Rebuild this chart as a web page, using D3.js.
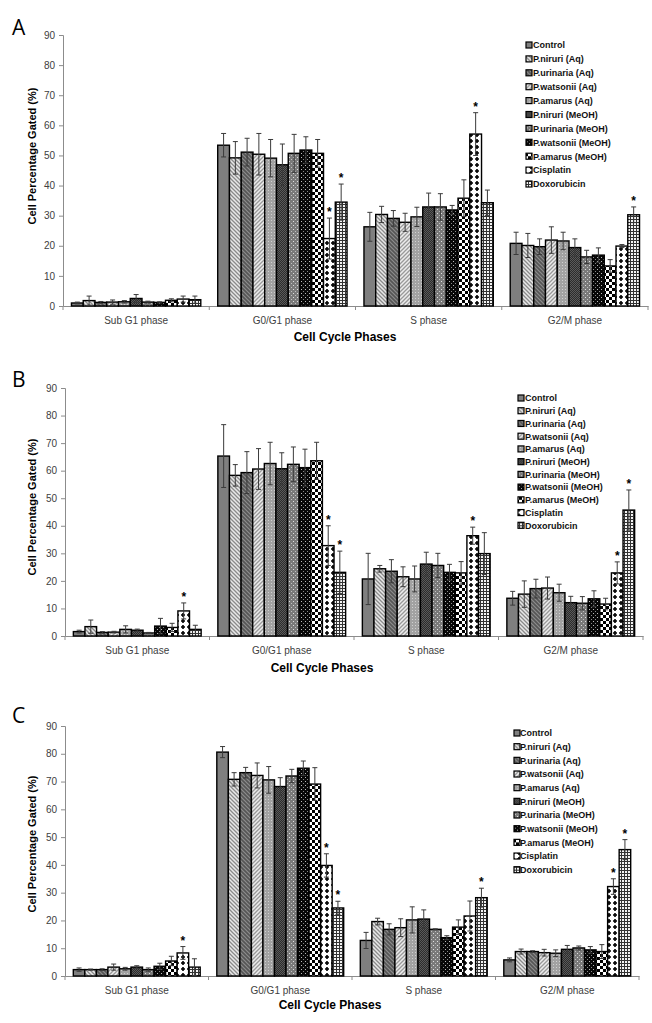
<!DOCTYPE html>
<html><head><meta charset="utf-8">
<script src="https://cdn.jsdelivr.net/npm/d3@7"></script>
<style>
body{margin:0;background:#fff;}
svg{display:block;font-family:"Liberation Sans",Arial,sans-serif;}
</style></head>
<body>
<svg id="chart" width="652" height="1023"></svg>
<script>
const phases = ["Sub G1 phase","G0/G1 phase","S phase","G2/M phase"];
const series = ["Control","P.niruri (Aq)","P.urinaria (Aq)","P.watsonii (Aq)","P.amarus (Aq)",
  "P.niruri (MeOH)","P.urinaria (MeOH)","P.watsonii (MeOH)","P.amarus (MeOH)","Cisplatin","Doxorubicin"];
const yTicks = [0,10,20,30,40,50,60,70,80,90];

// Panel A values [phase][series] and errors
const valuesA = [
  [1.0,1.8,1.2,1.3,1.4,2.5,1.3,1.2,1.9,2.3,2.1],
  [53.4,49.2,51.1,50.4,49.1,46.9,50.7,51.8,50.7,22.4,34.5],
  [26.3,30.4,29.1,27.8,29.6,32.9,32.9,31.9,35.8,57.1,34.3],
  [20.8,20.1,19.7,21.9,21.6,19.4,16.3,16.9,13.3,19.9,30.3]
];
const errorsA = [
  [0.3,1.5,0.3,0.7,0.4,1.3,0.3,0.2,0.5,1.0,1.2],
  [3.9,5.4,4.6,6.9,6.2,6.9,6.3,4.4,4.6,6.8,6.0],
  [4.8,2.7,2.6,3.0,3.2,4.6,4.4,1.5,6.1,7.1,4.2],
  [3.7,4.0,2.6,4.4,2.9,2.9,2.2,2.4,2.1,0.5,2.6]
];
const starsA = [[1,9],[1,10],[2,9],[3,10]];

const valuesB = [
  [1.6,3.4,1.3,1.4,2.4,2.1,1.1,3.6,3.1,9.1,2.4],
  [65.3,58.3,59.3,60.6,62.6,60.7,62.3,61.1,63.6,32.8,23.1],
  [20.7,24.4,23.5,21.5,20.7,26.1,25.6,23.1,22.9,36.4,29.9],
  [13.7,15.2,17.2,17.4,15.7,12.1,11.9,13.5,11.6,22.9,45.7]
];
const errorsB = [
  [0.5,2.4,0.3,0.3,1.3,0.4,0.2,2.8,1.5,2.9,1.5],
  [11.4,3.9,7.6,7.4,7.7,5.8,6.3,6.7,6.7,7.2,7.7],
  [9.3,1.2,4.2,3.6,4.7,4.3,4.4,2.9,4.1,3.1,7.6],
  [2.5,4.8,3.4,4.0,3.1,2.3,2.4,2.9,2.1,4.0,7.3]
];
const starsB = [[0,9],[1,9],[1,10],[2,9],[3,9],[3,10]];

const valuesC = [
  [2.3,2.3,2.3,3.2,2.6,3.2,2.3,3.5,5.4,8.3,3.2],
  [80.6,70.8,73.2,72.2,70.6,68.2,72.0,74.8,69.1,39.8,24.5],
  [12.8,19.6,16.8,17.4,20.2,20.5,16.8,13.8,17.6,21.6,28.2],
  [5.8,8.8,8.8,8.4,8.2,9.6,10.1,9.4,8.8,32.2,45.5]
];
const errorsC = [
  [0.6,0.2,0.3,1.1,0.5,0.5,0.6,1.1,1.7,2.3,3.0],
  [2.0,2.4,1.9,4.5,4.8,3.2,2.4,2.6,5.9,4.2,2.4],
  [2.9,1.2,2.0,3.2,4.7,3.3,0.2,0.7,2.6,5.4,3.4],
  [0.7,0.9,0.3,1.2,1.2,1.4,0.7,1.2,2.5,2.8,3.6]
];
const starsC = [[0,9],[1,9],[1,10],[2,10],[3,9],[3,10]];

const svg = d3.select("#chart");
const defs = svg.append("defs");

// ---- patterns ----
function pat(id, w, h, build){
  const p = defs.append("pattern").attr("id",id).attr("patternUnits","userSpaceOnUse")
    .attr("width",w).attr("height",h);
  build(p);
}
pat("p0",4,4,p=>{p.append("rect").attr("width",4).attr("height",4).attr("fill","#7f7f7f");});
pat("p1",4,4,p=>{p.append("rect").attr("width",4).attr("height",4).attr("fill","#e8e8e8");
  p.append("path").attr("d","M-1,-1L5,5M3,-1L5,1M-1,3L1,5").attr("stroke","#8a8a8a").attr("stroke-width",1.3);});
pat("p2",4,4,p=>{p.append("rect").attr("width",4).attr("height",4).attr("fill","#555");
  p.append("path").attr("d","M-1,-1L5,5M3,-1L5,1M-1,3L1,5").attr("stroke","#8c8c8c").attr("stroke-width",1.2);});
pat("p3",4,4,p=>{p.append("rect").attr("width",4).attr("height",4).attr("fill","#ececec");
  p.append("path").attr("d","M-1,5L5,-1M-1,1L1,-1M3,5L5,3").attr("stroke","#999").attr("stroke-width",1.3);});
pat("p4",3,3,p=>{p.append("rect").attr("width",3).attr("height",3).attr("fill","#a2a2a2");
  p.append("rect").attr("x",1).attr("y",1).attr("width",1).attr("height",1).attr("fill","#d0d0d0");});
pat("p5",2,2,p=>{p.append("rect").attr("width",2).attr("height",2).attr("fill","#2c2c2c");
  p.append("rect").attr("width",1).attr("height",1).attr("fill","#5a5a5a");
  p.append("rect").attr("x",1).attr("y",1).attr("width",1).attr("height",1).attr("fill","#5a5a5a");});
pat("p6",4,4,p=>{p.append("rect").attr("width",4).attr("height",4).attr("fill","#7a7a7a");
  p.append("rect").attr("x",1).attr("y",1).attr("width",1).attr("height",1).attr("fill","#e0e0e0");
  p.append("rect").attr("x",3).attr("y",3).attr("width",1).attr("height",1).attr("fill","#c0c0c0");});
pat("p7",4,4,p=>{p.append("rect").attr("width",4).attr("height",4).attr("fill","#080808");
  p.append("rect").attr("x",1).attr("y",1).attr("width",1).attr("height",1).attr("fill","#bbb");
  p.append("rect").attr("x",3).attr("y",3).attr("width",1).attr("height",1).attr("fill","#888");});
pat("p8",6,6,p=>{p.append("rect").attr("width",6).attr("height",6).attr("fill","#fff");
  p.append("rect").attr("width",3).attr("height",3).attr("fill","#000");
  p.append("rect").attr("x",3).attr("y",3).attr("width",3).attr("height",3).attr("fill","#000");});
pat("p9",6,6,p=>{p.append("rect").attr("width",6).attr("height",6).attr("fill","#fff");
  p.append("path").attr("d","M1,2.2H5V3.8H1ZM2.2,1H3.8V5H2.2Z").attr("fill","#000");});
pat("p10",3,3,p=>{p.append("rect").attr("width",3).attr("height",3).attr("fill","#f4f4f4");
  p.append("rect").attr("width",3).attr("height",1).attr("fill","#333");
  p.append("rect").attr("width",1).attr("height",3).attr("fill","#333");});

const panels = [
  {letter:"A", vals:valuesA, errs:errorsA, stars:starsA, x0:63, x1:648, yTop:35, yBot:306,
   letterY:35, ylabY:156, xlabX:345, xlabY:341, tickY:324,
   legX:526, legTextX:533, legY:45, legStep:13.9},
  {letter:"B", vals:valuesB, errs:errorsB, stars:starsB, x0:65, x1:643, yTop:388, yBot:636,
   letterY:387, ylabY:507, xlabX:322, xlabY:672, tickY:654,
   legX:518, legTextX:525, legY:398, legStep:12.73},
  {letter:"C", vals:valuesC, errs:errorsC, stars:starsC, x0:65, x1:639, yTop:726, yBot:976,
   letterY:723, ylabY:844, xlabX:330, xlabY:1009, tickY:994,
   legX:514, legTextX:520, legY:733, legStep:13.67}
];

panels.forEach(P=>{
  const g = svg.append("g");
  const y = d3.scaleLinear().domain([0,90]).range([P.yBot,P.yTop]);
  const xg = d3.scaleBand().domain(phases).range([P.x0,P.x1]).padding(0);
  const xs = d3.scaleBand().domain(series.map((d,i)=>i)).range([0,xg.bandwidth()])
    .paddingInner(0).paddingOuter(0.72);

  // panel letter
  g.append("text").attr("x",12).attr("y",P.letterY).attr("font-size",21)
    .attr("font-family","'Open Sans',Arial,sans-serif").attr("fill","#000").text(P.letter);

  // y axis
  const ya = g.append("g").attr("transform",`translate(${P.x0},0)`)
    .call(d3.axisLeft(y).tickValues(yTicks).tickSize(4).tickPadding(4));
  ya.select(".domain").attr("stroke","#8c8c8c");
  ya.selectAll(".tick line").attr("stroke","#8c8c8c");
  ya.selectAll(".tick text").attr("font-size",10).attr("fill","#404040")
    .attr("font-family","'Liberation Sans',Arial,sans-serif");

  // x axis
  const xa = g.append("g").attr("transform",`translate(0,${P.yBot})`)
    .call(d3.axisBottom(xg).tickSize(0).tickFormat(""));
  xa.select(".domain").attr("stroke","#8c8c8c");
  xa.selectAll(".tick").remove();
  const bounds = phases.map(p=>xg(p)).concat([P.x1]);
  g.selectAll(".xtk").data(bounds).enter().append("line")
    .attr("x1",d=>d).attr("x2",d=>d).attr("y1",P.yBot).attr("y2",P.yBot+4)
    .attr("stroke","#8c8c8c");
  g.selectAll(".xlab").data(phases).enter().append("text")
    .attr("x",d=>xg(d)+xg.bandwidth()/2).attr("y",P.tickY).attr("text-anchor","middle")
    .attr("font-size",10).attr("fill","#404040").text(d=>d);

  // axis titles
  g.append("text").attr("transform",`translate(36,${P.ylabY}) rotate(-90)`)
    .attr("text-anchor","middle").attr("font-size",11).attr("font-weight","bold")
    .text("Cell Percentage Gated (%)");
  g.append("text").attr("x",P.xlabX).attr("y",P.xlabY).attr("text-anchor","middle")
    .attr("font-size",12).attr("font-weight","bold").text("Cell Cycle Phases");

  // bars
  const data = [];
  phases.forEach((ph,pi)=>series.forEach((s,si)=>data.push({ph,pi,si,v:P.vals[pi][si],e:P.errs[pi][si]})));
  g.selectAll(".bar").data(data).enter().append("rect")
    .attr("x",d=>xg(d.ph)+xs(d.si)).attr("width",xs.bandwidth())
    .attr("y",d=>y(d.v)).attr("height",d=>y(0)-y(d.v))
    .attr("fill",d=>`url(#p${d.si})`).attr("stroke","#000").attr("stroke-width",1.4);

  // error bars
  const eb = g.selectAll(".eb").data(data).enter().append("g").attr("stroke","#3a3a3a").attr("stroke-width",1);
  eb.append("line").attr("x1",d=>xg(d.ph)+xs(d.si)+xs.bandwidth()/2).attr("x2",d=>xg(d.ph)+xs(d.si)+xs.bandwidth()/2)
    .attr("y1",d=>y(Math.max(0,d.v-d.e))).attr("y2",d=>y(d.v+d.e));
  eb.append("line").attr("x1",d=>xg(d.ph)+xs(d.si)+xs.bandwidth()/2-2.5).attr("x2",d=>xg(d.ph)+xs(d.si)+xs.bandwidth()/2+2.5)
    .attr("y1",d=>y(d.v+d.e)).attr("y2",d=>y(d.v+d.e));
  eb.append("line").attr("x1",d=>xg(d.ph)+xs(d.si)+xs.bandwidth()/2-2.5).attr("x2",d=>xg(d.ph)+xs(d.si)+xs.bandwidth()/2+2.5)
    .attr("y1",d=>y(Math.max(0,d.v-d.e))).attr("y2",d=>y(Math.max(0,d.v-d.e)));

  // significance stars
  g.selectAll(".star").data(P.stars).enter().append("text")
    .attr("x",d=>xg(phases[d[0]])+xs(d[1])+xs.bandwidth()/2)
    .attr("y",d=>y(P.vals[d[0]][d[1]]+P.errs[d[0]][d[1]])-2)
    .attr("text-anchor","middle").attr("font-size",12).attr("font-weight","bold").text("*");

  // legend
  const lg = g.selectAll(".leg").data(series).enter().append("g")
    .attr("transform",(d,i)=>`translate(0,${P.legY+i*P.legStep})`);
  lg.append("rect").attr("x",P.legX).attr("y",-3).attr("width",6).attr("height",6)
    .attr("fill",(d,i)=>`url(#p${i})`).attr("stroke","#000").attr("stroke-width",1.2);
  lg.append("text").attr("x",P.legTextX).attr("y",3.3).attr("font-size",9).attr("font-weight","bold")
    .attr("fill","#111").text(d=>d);
});
</script>
</body></html>
